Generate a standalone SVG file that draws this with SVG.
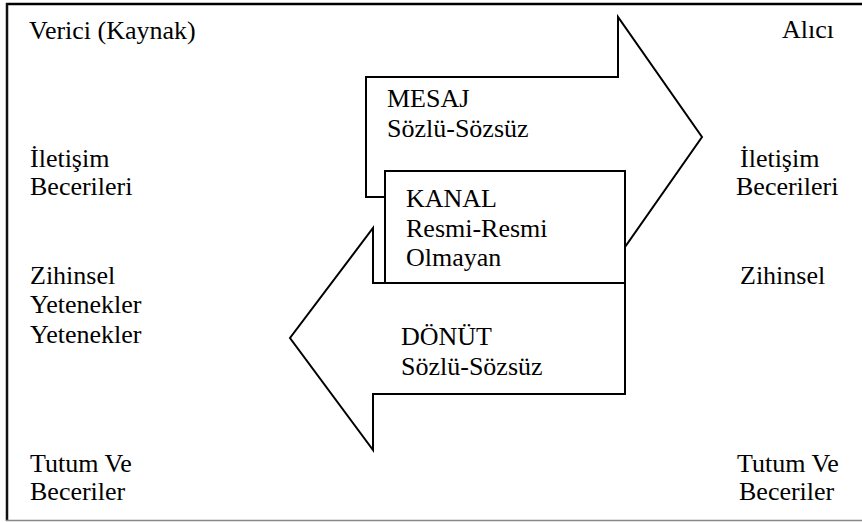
<svg xmlns="http://www.w3.org/2000/svg" width="862" height="522" viewBox="0 0 862 522">
<style>
  text { font-family: 'Liberation Serif', 'DejaVu Serif', serif; font-size: 26px; fill: #000; }
  .shape { fill: #fff; stroke: #000; stroke-width: 2; stroke-linejoin: miter; }
</style>
<rect x="0" y="0" width="862" height="522" fill="#fff"/>
<g id="frame">
  <line x1="6" y1="4" x2="862" y2="4" stroke="#000" stroke-width="2.5"/>
  <line x1="7" y1="3" x2="7" y2="521" stroke="#111" stroke-width="2.5"/>
  <line x1="6" y1="520.5" x2="862" y2="520.5" stroke="#888" stroke-width="1.5"/>
</g>
<g id="connectors">
  <g id="mesaj-arrow">
    <polygon class="shape" points="366,77 618,77 618,17 702,137 618,257 618,197 366,197"/>
    <text x="387" y="107" font-family="Liberation Serif, serif">MESAJ</text>
    <text x="387" y="137" font-family="Liberation Serif, serif">Sözlü-Sözsüz</text>
  </g>
  <g id="donut-arrow">
    <polygon class="shape" points="625,283 373,283 373,228 290,338 373,450 373,394 625,394"/>
    <text x="401" y="345" font-family="Liberation Serif, serif">DÖNÜT</text>
    <text x="401" y="375" font-family="Liberation Serif, serif">Sözlü-Sözsüz</text>
  </g>
</g>
<g id="kanal">
  <rect class="shape" x="385" y="171" width="240" height="112"/>
  <text x="406" y="207">KANAL</text>
  <text x="406" y="237">Resmi-Resmi</text>
  <text x="406" y="266">Olmayan</text>
</g>
<g id="verici">
  <text x="29" y="39">Verici (Kaynak)</text>
  <text x="30" y="167">İletişim</text>
  <text x="30" y="195">Becerileri</text>
  <text x="30" y="284">Zihinsel</text>
  <text x="30" y="313">Yetenekler</text>
  <text x="30" y="343">Yetenekler</text>
  <text x="30" y="472">Tutum Ve</text>
  <text x="30" y="500">Beceriler</text>
</g>
<g id="alici">
  <text x="782" y="38">Alıcı</text>
  <text x="740" y="167">İletişim</text>
  <text x="736" y="195">Becerileri</text>
  <text x="740" y="284">Zihinsel</text>
  <text x="737" y="472">Tutum Ve</text>
  <text x="739" y="500">Beceriler</text>
</g>
</svg>
